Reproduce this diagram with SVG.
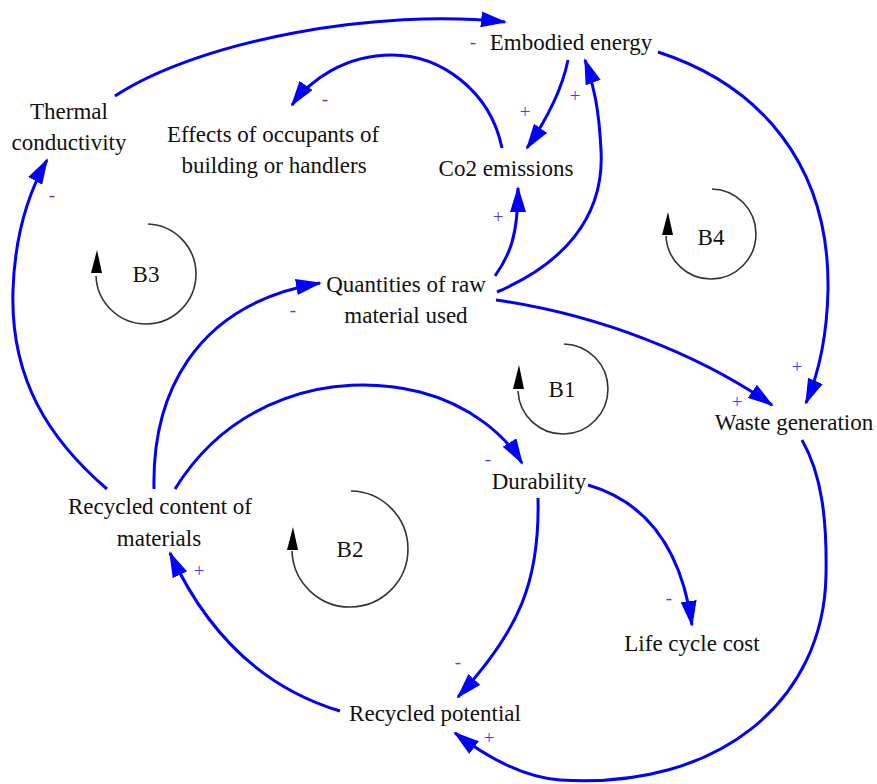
<svg xmlns="http://www.w3.org/2000/svg" width="877" height="784" viewBox="0 0 877 784">
<style>
.lbl{font-family:'Liberation Serif','DejaVu Serif',serif;font-size:23px;fill:#111;text-anchor:middle}
.pol{font-family:'Liberation Serif','DejaVu Serif',serif;font-size:19px;fill:#5533ff;text-anchor:middle}
.c{fill:none;stroke:#0000ff;stroke-width:3;marker-end:url(#ah)}
.loop{fill:none;stroke:#333;stroke-width:1.6}
.lah{fill:#000}
</style>
<defs>
<marker id="ah" viewBox="0 0 26 16" refX="24" refY="8" markerWidth="26" markerHeight="16" markerUnits="userSpaceOnUse" orient="auto">
<path d="M0,0 L26,8 L0,16 z" fill="#0000ff"/>
</marker>
</defs>
<rect width="877" height="784" fill="#fff"/>
<g id="connectors">
<path class="c" d="M115,96 C200,40 380,8 505,22"/>
<path class="c" d="M502,148 C490,90 440,55 392,55 C345,55 310,80 292,105"/>
<path class="c" d="M568,60 Q560,100 527,148"/>
<path class="c" d="M497,292 C560,265 605,220 601,150 C599,110 594,85 585,60"/>
<path class="c" d="M495,276 C510,255 518,235 518,188"/>
<path class="c" d="M658,52 C760,85 830,165 828,290 C827,340 818,375 806,403"/>
<path class="c" d="M496,300 C600,315 700,355 772,405"/>
<path class="c" d="M107,489 C50,440 10,380 13,290 C15,230 30,190 47,160"/>
<path class="c" d="M154,489 C152,400 190,305 320,283"/>
<path class="c" d="M175,489 C230,400 330,370 420,392 C470,405 505,435 522,463"/>
<path class="c" d="M588,485 C640,500 680,540 692,625"/>
<path class="c" d="M538,498 C540,580 520,630 458,697"/>
<path class="c" d="M802,440 C822,475 827,520 826,575 C824,700 720,790 560,780 C520,777 480,752 455,733"/>
<path class="c" d="M340,711 C270,690 210,640 170,553"/>
</g>
<g id="polarities">
<text class="pol" x="473" y="48">-</text>
<text class="pol" x="325" y="105">-</text>
<text class="pol" x="52" y="201">-</text>
<text class="pol" x="525" y="118">+</text>
<text class="pol" x="575" y="102">+</text>
<text class="pol" x="498" y="223">+</text>
<text class="pol" x="293" y="316">-</text>
<text class="pol" x="797" y="373">+</text>
<text class="pol" x="737" y="408">+</text>
<text class="pol" x="488" y="465">-</text>
<text class="pol" x="669" y="604">-</text>
<text class="pol" x="458" y="668">-</text>
<text class="pol" x="489" y="744">+</text>
<text class="pol" x="199" y="577">+</text>
</g>
<g id="loop-B3">
<path class="loop" d="M148,224 A50,50 0 1,1 96,276"/>
<polygon class="lah" points="91,273 97,250 102,273"/>
<text class="lbl" x="146" y="282">B3</text>
</g>
<g id="loop-B4">
<path class="loop" d="M712,189 A45,45 0 1,1 666,236"/>
<polygon class="lah" points="662,235 668,212 673,235"/>
<text class="lbl" x="711" y="245">B4</text>
</g>
<g id="loop-B1">
<path class="loop" d="M564,344 A45,45 0 1,1 518,391"/>
<polygon class="lah" points="513,389 519,365 524,389"/>
<text class="lbl" x="562" y="397">B1</text>
</g>
<g id="loop-B2">
<path class="loop" d="M351,491 A58,58 0 1,1 292,551"/>
<polygon class="lah" points="287,550 293,527 298,550"/>
<text class="lbl" x="350" y="557">B2</text>
</g>
<g id="node-embodied-energy"><text class="lbl" x="571" y="50">Embodied energy</text></g>
<g id="node-thermal-conductivity"><text class="lbl" x="69" y="119">Thermal</text><text class="lbl" x="69" y="150">conductivity</text></g>
<g id="node-effects-occupants"><text class="lbl" x="273" y="142">Effects of occupants of</text><text class="lbl" x="274" y="173">building or handlers</text></g>
<g id="node-co2-emissions"><text class="lbl" x="506" y="176">Co2 emissions</text></g>
<g id="node-quantities-raw"><text class="lbl" x="406" y="292">Quantities of raw</text><text class="lbl" x="406" y="323">material used</text></g>
<g id="node-waste-generation"><text class="lbl" x="794" y="430">Waste generation</text></g>
<g id="node-durability"><text class="lbl" x="539" y="489">Durability</text></g>
<g id="node-recycled-content"><text class="lbl" x="160" y="514">Recycled content of</text><text class="lbl" x="159" y="546">materials</text></g>
<g id="node-life-cycle-cost"><text class="lbl" x="692" y="651">Life cycle cost</text></g>
<g id="node-recycled-potential"><text class="lbl" x="435" y="721">Recycled potential</text></g>
</svg>
